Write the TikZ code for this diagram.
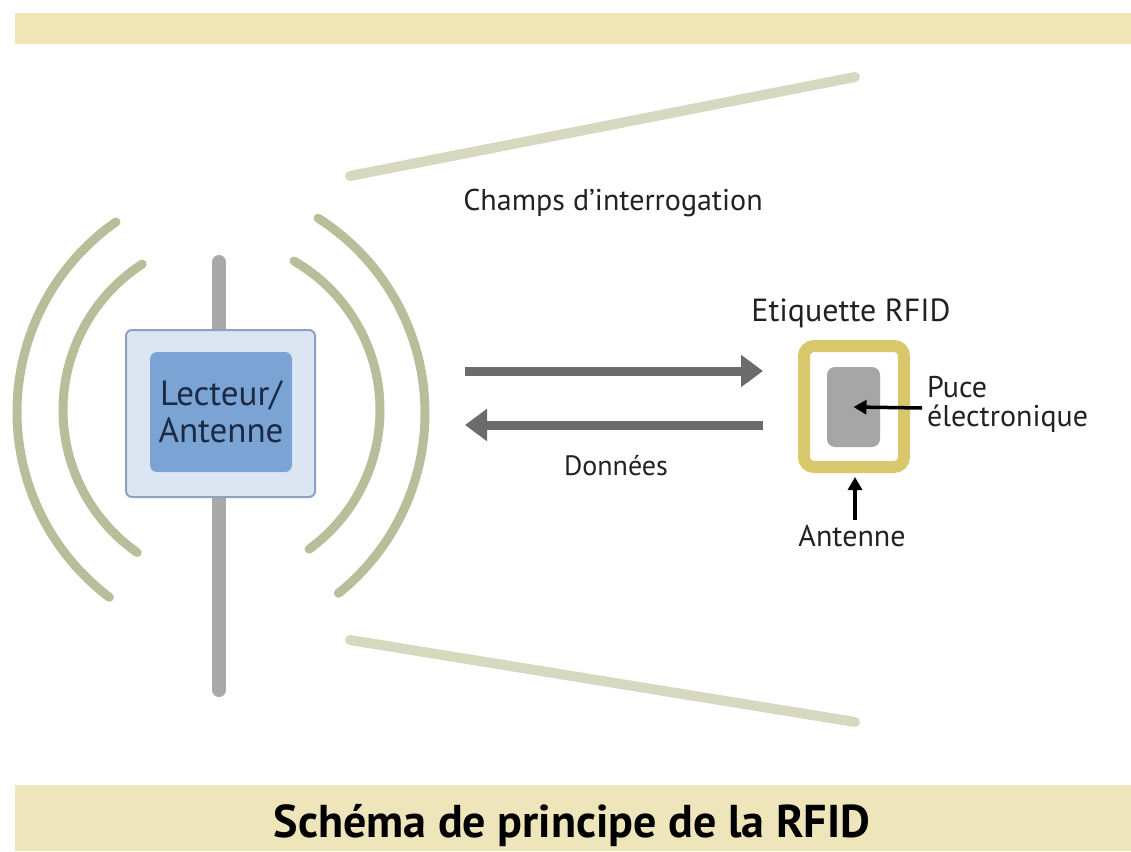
\documentclass[tikz,border=0pt]{standalone}
\usepackage{fontspec}
\setmainfont{PT Sans}
\usetikzlibrary{arrows.meta}
\definecolor{bandtop}{HTML}{F0E6B5}
\definecolor{bandbot}{HTML}{EEE5BA}
\definecolor{beamcol}{HTML}{D6D9C0}
\definecolor{wavecol}{HTML}{B9BD99}
\definecolor{polecol}{HTML}{A9A9A9}
\definecolor{readerlight}{HTML}{DCE6F3}
\definecolor{readerborder}{HTML}{8DA2C0}
\definecolor{readerdark}{HTML}{7BA3D3}
\definecolor{readertext}{HTML}{1C2A45}
\definecolor{flowcol}{HTML}{6B6B6B}
\definecolor{tagcol}{HTML}{D9C86B}
\definecolor{chipcol}{HTML}{A6A6A6}
\definecolor{labelcol}{HTML}{222222}
\tikzset{
  beam/.style={draw=beamcol, line width=10pt, line cap=round},
  wave/.style={draw=wavecol, line width=9pt, line cap=round},
  pole/.style={draw=polecol, line width=14pt, line cap=round},
  flow/.style={draw=flowcol, line width=9pt, -{Triangle[length=22pt,width=31pt]}},
  pointer/.style={draw=black, line width=3.5pt, -{Triangle[length=13pt,width=14pt]}},
  lbl/.style={text=labelcol, inner sep=0pt, font=\fontsize{30}{34}\selectfont},
}
\begin{document}
\begin{tikzpicture}[x=1pt,y=-1pt]
\useasboundingbox (0,0) rectangle (1131,851);
\fill[white] (0,0) rectangle (1131,851);
% bands
\fill[bandtop] (15,13) rectangle (1131,44);
\fill[bandbot] (15,785) rectangle (1131,851);
% field beams
\draw[beam] (350,176) -- (855,77);
\draw[beam] (350,640) -- (855,722);
% pole
\draw[pole] (219,262) -- (219,690);
% waves
\draw[wave] ([shift={(-125:232)}]249,412) arc[start angle=-125, end angle=-233, radius=232];
\draw[wave] ([shift={(-123:174)}]237,410) arc[start angle=-123, end angle=-235, radius=174];
\draw[wave] ([shift={(-60:172)}]208,410) arc[start angle=-60, end angle=54, radius=172];
\draw[wave] ([shift={(-57.5:231)}]194,413) arc[start angle=-57.5, end angle=51.3, radius=231];
% reader
\node[draw=readerborder, fill=readerlight, line width=2pt, rounded corners=6pt,
      minimum width=189pt, minimum height=167pt] (reader) at (220.5,413.5) {};
\node[fill=readerdark, rounded corners=7pt, minimum width=142pt, minimum height=120pt,
      align=center, text=readertext, font=\fontsize{35}{37}\selectfont] (readerin) at (221,412)
      {Lecteur/\\Antenne};
% labels
\node[lbl] (champs) at (613,203) {Champs d’interrogation};
\node[lbl, font=\fontsize{32}{36}\selectfont] (etiq) at (851,313) {Etiquette RFID};
\node[lbl, font=\fontsize{28}{32}\selectfont] (donnees) at (616,466) {Données};
% flow arrows
\coordinate (a1s) at (465,371);
\coordinate (a1e) at (763,371);
\coordinate (a2s) at (763,425);
\coordinate (a2e) at (465,425);
\draw[flow] (a1s) -- (a1e);
\draw[flow] (a2s) -- (a2e);
% tag
\node[draw=tagcol, line width=12pt, rounded corners=10pt, minimum width=100pt,
      minimum height=121pt] (tag) at (854,406.5) {};
\node[fill=chipcol, rounded corners=8pt, minimum width=53pt, minimum height=80pt] (chip) at (853.5,407) {};
\node[lbl, anchor=west, align=left, font=\fontsize{30}{29}\selectfont] (puce) at (927,404) {Puce\\électronique};
\coordinate (pa) at (922,408);
\draw[pointer] (pa) -- (chip.center);
\node[lbl, font=\fontsize{30}{34}\selectfont] (antenne) at (852,536) {Antenne};
\coordinate (ab) at (855,520);
\coordinate (at) at (855,477);
\draw[pointer] (ab) -- (at);
% title
\node[text=black, font=\bfseries\fontsize{46}{52}\selectfont, inner sep=0pt] (title) at (572,826) {Schéma de principe de la RFID};
\end{tikzpicture}
\end{document}
